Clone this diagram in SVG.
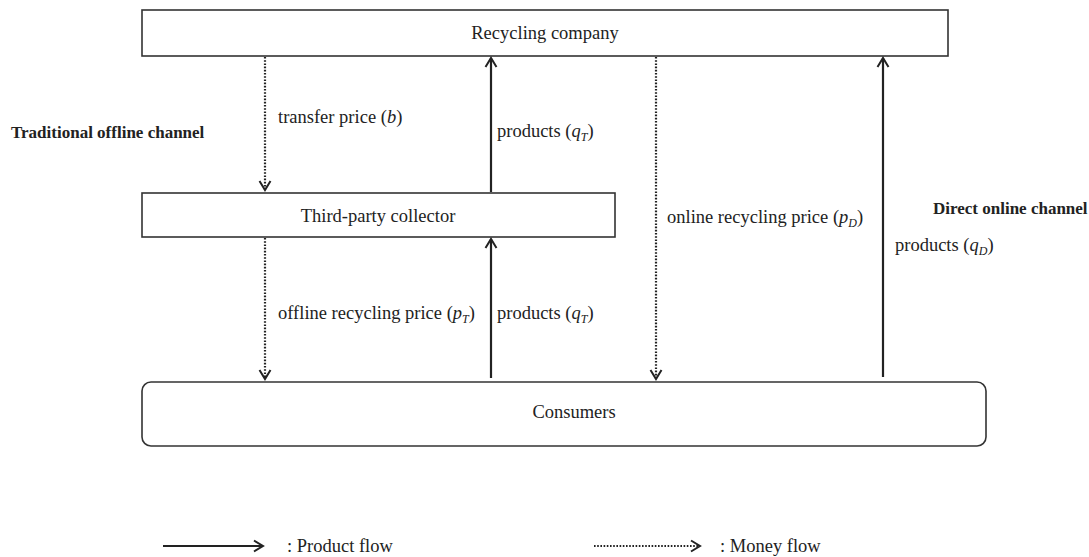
<svg xmlns="http://www.w3.org/2000/svg" width="1089" height="557" viewBox="0 0 1089 557">
<style>
  .box { fill: #fff; stroke: #333; stroke-width: 1.6; }
  .t { font-family: "Liberation Serif", "Times New Roman", serif; font-size: 18.5px; fill: #222; }
  .b { font-weight: bold; font-size: 17px; }
  .c { text-anchor: middle; }
  .i { font-style: italic; }
  .s { font-style: italic; font-size: 12px; }
  .solid { stroke: #222; stroke-width: 2.2; fill: none; }
  .dot { stroke: #222; stroke-width: 2.2; fill: none; stroke-dasharray: 1.6 1.6; }
</style>
<defs>
  <marker id="ah" markerUnits="userSpaceOnUse" markerWidth="14" markerHeight="14" viewBox="-12 -7 14 14" refX="0" refY="0" orient="auto">
    <path d="M-9,-5.5 L0,0 L-9,5.5" fill="none" stroke="#222" stroke-width="2"/>
  </marker>
</defs>
<rect width="1089" height="557" fill="#fff"/>

<g id="recycling-company">
  <rect class="box" x="142" y="10" width="806" height="46"/>
  <text class="t c" x="545" y="39">Recycling company</text>
</g>
<g id="third-party-collector">
  <rect class="box" x="142" y="193" width="473" height="44"/>
  <text class="t c" x="378" y="222">Third-party collector</text>
</g>
<g id="consumers">
  <rect class="box" x="142" y="382" width="844" height="64" rx="9"/>
  <text class="t c" x="574" y="418">Consumers</text>
</g>

<g id="connectors">
  <line class="dot" x1="265" y1="57" x2="265" y2="190" marker-end="url(#ah)"/>
  <line class="solid" x1="491" y1="192" x2="491" y2="58" marker-end="url(#ah)"/>
  <line class="dot" x1="656" y1="57" x2="656" y2="379" marker-end="url(#ah)"/>
  <line class="solid" x1="883" y1="377" x2="883" y2="58" marker-end="url(#ah)"/>
  <line class="dot" x1="265" y1="238" x2="265" y2="379" marker-end="url(#ah)"/>
  <line class="solid" x1="491" y1="378" x2="491" y2="239" marker-end="url(#ah)"/>
</g>

<g id="labels">
  <text class="t b" x="11" y="138">Traditional offline channel</text>
  <text class="t" x="278" y="123">transfer price (<tspan class="i">b</tspan>)</text>
  <text class="t" x="497" y="137">products (<tspan class="i">q</tspan><tspan class="s" dy="4">T</tspan><tspan dy="-4">)</tspan></text>
  <text class="t" x="667" y="223">online recycling price (<tspan class="i">p</tspan><tspan class="s" dy="4">D</tspan><tspan dy="-4">)</tspan></text>
  <text class="t b" x="933" y="214">Direct online channel</text>
  <text class="t" x="895" y="251">products (<tspan class="i">q</tspan><tspan class="s" dy="4">D</tspan><tspan dy="-4">)</tspan></text>
  <text class="t" x="278" y="319">offline recycling price (<tspan class="i">p</tspan><tspan class="s" dy="4">T</tspan><tspan dy="-4">)</tspan></text>
  <text class="t" x="497" y="319">products (<tspan class="i">q</tspan><tspan class="s" dy="4">T</tspan><tspan dy="-4">)</tspan></text>
</g>

<g id="legend">
  <line class="solid" x1="163" y1="546" x2="263" y2="546" marker-end="url(#ah)"/>
  <text class="t" x="287" y="552">: Product flow</text>
  <line class="dot" x1="594" y1="546" x2="700" y2="546" marker-end="url(#ah)"/>
  <text class="t" x="720" y="552">: Money flow</text>
</g>
</svg>
